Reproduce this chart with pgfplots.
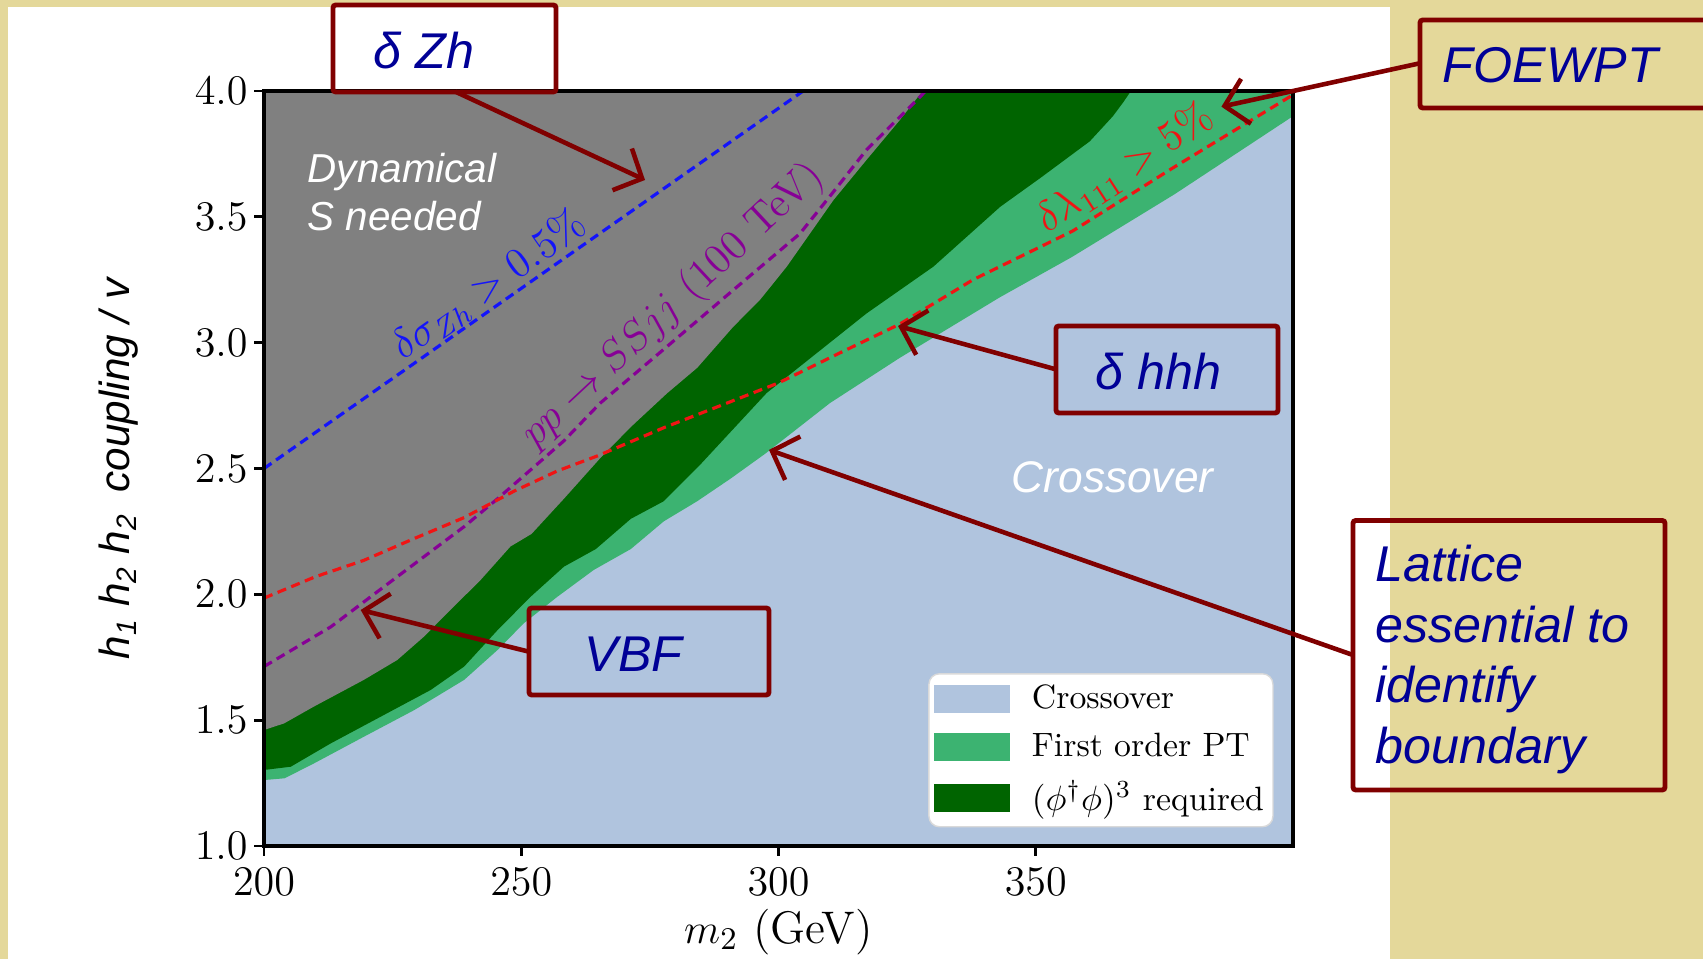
\documentclass[border=0pt]{standalone}
\usepackage{fontspec}
\usepackage{pgfplots}
\pgfplotsset{compat=1.18}
\usetikzlibrary{arrows.meta}
\newfontfamily\annfont{Liberation Sans}
\definecolor{beige}{RGB}{228,216,154}
\definecolor{crossover}{HTML}{B0C4DE}
\definecolor{fopt}{HTML}{3CB371}
\definecolor{phisix}{HTML}{006400}
\definecolor{dyn}{HTML}{808080}
\definecolor{darkred}{HTML}{800000}
\definecolor{annblue}{RGB}{0,0,150}
\definecolor{lblue}{RGB}{20,20,250}
\definecolor{lpurple}{RGB}{135,0,150}
\definecolor{lred}{RGB}{240,20,20}
\begin{document}
\begin{tikzpicture}[x=1cm,y=1cm]
\begin{scope}
\clip (0,0) rectangle (17.03,9.59);
\fill[beige] (0,0) rectangle (17.03,9.59);
\fill[white] (0.08,0) rectangle (13.90,9.52);
\begin{axis}[
  at={(2.64cm,1.13cm)}, anchor=south west,
  scale only axis, width=10.29cm, height=7.55cm,
  xmin=200, xmax=400, ymin=1, ymax=4,
  xtick={200,250,300,350}, ytick={1,1.5,2,2.5,3,3.5,4},
  yticklabel style={/pgf/number format/.cd, fixed, fixed zerofill, precision=1, /tikz/.cd, xshift=0.06cm},
  tick label style={font=\fontsize{13}{15}\selectfont},
  tick align=outside, xtick pos=bottom, ytick pos=left,
  major tick length=0.1cm,
  every tick/.style={black, line width=0.8pt},
  axis line style={line width=1pt},
  axis on top,
  xlabel={$m_2$ (GeV)},
  xlabel style={font=\fontsize{13}{15}\selectfont, at={(axis description cs:0.5,0)}, anchor=center, yshift=-0.86cm},
  legend image code/.code={\fill[#1, sharp corners] (0cm,-0.14cm) rectangle (0.76cm,0.14cm);},
  legend cell align=left,
  legend style={at={(axis cs:329.1,1.687)}, anchor=north west, fill=white, draw=black!15, rounded corners=3pt, font=\fontsize{9.6}{11}\selectfont, inner xsep=0.055cm, inner ysep=0.075cm, row sep=0.12cm, column sep=0.18cm, nodes={inner sep=1pt}},
]
% Crossover (whole plane)
\addplot[fill=crossover, draw=none] coordinates {(200,1)(400,1)(400,4)(200,4)};
\addlegendentry{Crossover}
% First order PT
\addplot[fill=fopt, draw=none] coordinates {
(200,1.262)(204,1.269)(209.7,1.328)(219.4,1.434)(229.2,1.54)(238.9,1.66)(245.4,1.779)(250.5,1.885)
(257,1.99)(264.1,2.097)(271.3,2.18)(277.7,2.29)(284.2,2.37)(290.7,2.46)(297.5,2.56)(310,2.76)
(323.6,2.94)(343,3.18)(357,3.34)(377,3.59)(400,3.90)
(400,4)(200,4)};
\addlegendentry{First order PT}
% (phi^dagger phi)^3 required
\addplot[fill=phisix, draw=none] coordinates {
(200,1.302)(205.2,1.315)(213,1.408)(222.7,1.514)(232.4,1.62)(238.9,1.713)(245.4,1.858)(251.8,1.99)
(258.3,2.11)(264.5,2.18)(271.3,2.30)(277.7,2.37)(285,2.52)(297.7,2.80)(317.1,3.116)(330.1,3.302)
(343.1,3.54)(351,3.656)(360.5,3.80)(365,3.90)(367,3.955)(368.5,4.0)(200,4)};
\addlegendentry{$(\phi^\dagger\phi)^3$ required}
% Dynamical S needed
\addplot[fill=dyn, draw=none, forget plot] coordinates {
(200,1.461)(203.9,1.487)(209.7,1.554)(219.4,1.66)(225.9,1.739)(231.1,1.832)(235.6,1.925)(242.1,2.057)
(247.9,2.19)(252,2.24)(258.3,2.38)(265.3,2.54)(271.3,2.665)(278.3,2.798)(284.2,2.90)(291.2,3.063)
(296.4,3.17)(301.6,3.302)(310.7,3.567)(317.1,3.726)(323.6,3.885)(328,4.0)(200,4)};
% dashed lines
\addplot[lblue, line width=0.9pt, dash pattern=on 2.6pt off 1.6pt, forget plot] coordinates {(200,2.5)(304.8,4.0)};
\addplot[lpurple, line width=0.9pt, dash pattern=on 2.6pt off 1.6pt, forget plot] coordinates {
(200,1.713)(213,1.871)(225.9,2.07)(238.9,2.269)(245.4,2.38)(258.3,2.61)(265.3,2.759)(278.3,2.984)
(291.2,3.209)(304.2,3.434)(310.7,3.60)(317.1,3.766)(326.9,3.964)(328.6,4.0)};
\addplot[lred, line width=0.9pt, dash pattern=on 2.6pt off 1.6pt, forget plot] coordinates {
(200,1.985)(210,2.07)(219.4,2.135)(229,2.22)(238.9,2.305)(248.6,2.41)(257,2.49)(264.8,2.55)
(277.7,2.662)(290,2.76)(300,2.84)(312,2.96)(323.5,3.073)(337.8,3.25)(357.2,3.444)(376.7,3.695)
(398,3.96)(400,3.985)};
\node[rotate=35, text=lblue, font=\fontsize{12}{14}\selectfont] at (axis cs:243.7,3.229) {$\delta\sigma_{Zh} > 0.5\%$};
\node[rotate=43, text=lpurple, font=\fontsize{12}{14}\selectfont] at (axis cs:279.5,3.146) {$pp \to SSjj$ (100 TeV)};
\node[rotate=33, text=lred, font=\fontsize{12}{14}\selectfont] at (axis cs:367.3,3.695) {$\delta\lambda_{111} > 5\%$};
\end{axis}
% y label
\node[rotate=90, font=\annfont\itshape\fontsize{12}{15}\selectfont] at (1.19,4.90) {h\textsubscript{1} h\textsubscript{2} h\textsubscript{2}\enspace coupling / v};
% in-plot texts
\node[anchor=base west, text=white, font=\annfont\itshape\fontsize{11.5}{13.7}\selectfont, inner sep=0pt] at (3.07,7.76) {Dynamical};
\node[anchor=base west, text=white, font=\annfont\itshape\fontsize{11.5}{13.7}\selectfont, inner sep=0pt] at (3.07,7.28) {S needed};
\node[anchor=base west, text=white, font=\annfont\itshape\fontsize{12.6}{15}\selectfont, inner sep=0pt] at (10.11,4.663) {Crossover};
% boxes
\tikzset{abox/.style={draw=darkred, line width=1.4pt, rounded corners=0.8pt},
         atxt/.style={anchor=base west, text=annblue, inner sep=0pt, font=\annfont\itshape\fontsize{14.3}{17}\selectfont},
         aarr/.style={draw=darkred, line width=1.3pt, -{Straight Barb[length=2.2mm, width=4.6mm]}}}
\draw[abox] (3.33,8.67) rectangle (5.56,9.54);
\node[atxt] at (3.73,8.90) {δ Zh};
\draw[abox] (14.20,8.51) rectangle (17.5,9.39);
\node[atxt] at (14.42,8.76) {FOEWPT};
\draw[abox] (10.56,5.46) rectangle (12.78,6.33);
\node[atxt] at (10.95,5.697) {δ hhh};
\draw[abox] (5.29,2.64) rectangle (7.69,3.51);
\node[atxt] at (5.84,2.873) {VBF};
\draw[abox] (13.53,1.69) rectangle (16.65,4.385);
\node[atxt] at (13.75,3.77) {Lattice};
\node[atxt] at (13.75,3.165) {essential to};
\node[atxt] at (13.75,2.56) {identify};
\node[atxt] at (13.75,1.955) {boundary};
% arrows
\draw[aarr] (4.554,8.673) -- (6.45,7.79);
\draw[aarr] (14.198,8.957) -- (12.214,8.523);
\draw[aarr] (10.557,5.897) -- (8.98,6.33);
\draw[aarr] (13.526,3.041) -- (7.69,5.091);
\draw[aarr] (5.29,3.073) -- (3.607,3.49);
\end{scope}
\pgfresetboundingbox
\useasboundingbox (0,0) rectangle (17.03,9.59);
\end{tikzpicture}
\end{document}
